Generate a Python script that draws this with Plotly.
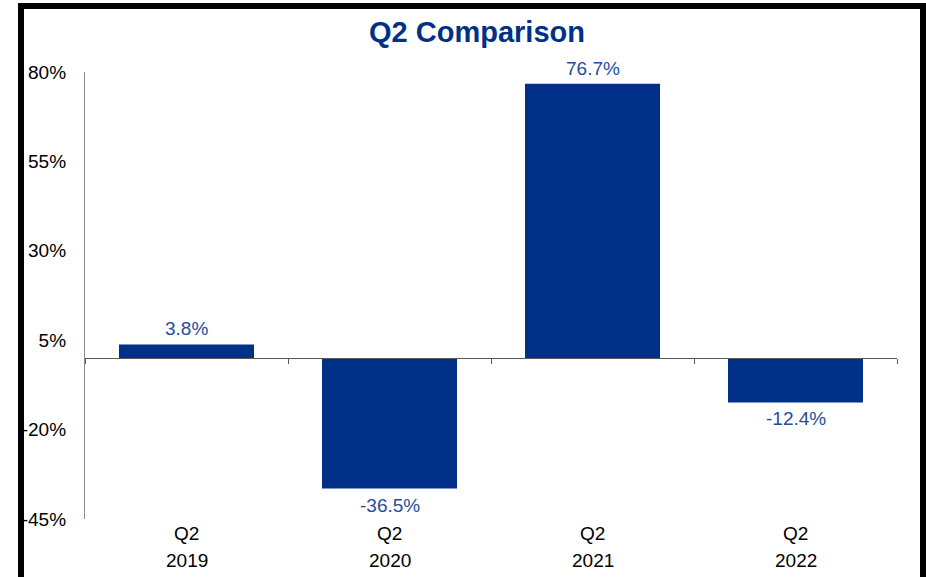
import plotly.graph_objects as go

quarters = ["Q2", "Q2", "Q2", "Q2"]
years = ["2019", "2020", "2021", "2022"]
categories = [f"{q} {y}" for q, y in zip(quarters, years)]
values = [3.8, -36.5, 76.7, -12.4]
value_labels = ["3.8%", "-36.5%", "76.7%", "-12.4%"]
y_ticks = [-45, -20, 5, 30, 55, 80]
y_tick_text = ["-45%", "-20%", "5%", "30%", "55%", "80%"]

W, H = 926, 577
L, R, T, B = 85, 29, 72, 58
pw, ph = W - L - R, H - T - B

BAR = "#003087"
TXT = "#1F4E9E"
FONT = "Arial, Liberation Sans, sans-serif"

fig = go.Figure()
fig.add_trace(go.Bar(x=categories, y=values, marker=dict(color=BAR, line=dict(width=0)),
                     hoverinfo="skip", showlegend=False))
fig.add_trace(go.Scatter(x=categories, y=values, xaxis="x2", mode="markers",
                         marker=dict(opacity=0), hoverinfo="skip", showlegend=False))

for c, v, t in zip(categories, values, value_labels):
    fig.add_annotation(x=c, y=v, text=t, showarrow=False,
                       yanchor="bottom" if v >= 0 else "top",
                       yshift=3 if v >= 0 else -4,
                       font=dict(family=FONT, size=19, color=TXT))

for c, q, yr in zip(categories, quarters, years):
    fig.add_annotation(x=c, y=0, yref="paper", text=q, showarrow=False,
                       yanchor="middle", yshift=-14,
                       font=dict(family=FONT, size=19, color="black"))
    fig.add_annotation(x=c, y=0, yref="paper", text=yr, showarrow=False,
                       yanchor="middle", yshift=-41,
                       font=dict(family=FONT, size=19, color="black"))

def px_to_paper_x(px):
    return (px - L) / pw

def px_to_paper_y(py):
    return (H - B - py) / ph

fig.add_shape(type="rect", xref="paper", yref="paper",
              x0=px_to_paper_x(21), x1=px_to_paper_x(923),
              y0=px_to_paper_y(600), y1=px_to_paper_y(6),
              line=dict(color="black", width=6), fillcolor="rgba(0,0,0,0)", layer="above")

ymin, ymax = -45, 80
fig.update_layout(
    width=W, height=H,
    margin=dict(l=L, r=R, t=T, b=B),
    paper_bgcolor="white", plot_bgcolor="white",
    bargap=0.335,
    font=dict(family=FONT, size=19, color="black"),
    title=dict(text="<b>Q2 Comparison</b>", x=477 / W, xanchor="center",
               y=1 - 32 / H, yanchor="middle", yref="container",
               font=dict(family=FONT, size=29, color="#003087")),
    xaxis=dict(type="category", categoryarray=categories, showline=False, ticks="",
               showgrid=False, zeroline=False, showticklabels=False),
    xaxis2=dict(type="category", categoryarray=categories, overlaying="x", anchor="free",
                position=(0 - ymin) / (ymax - ymin), side="bottom",
                showline=True, linecolor="#595959", linewidth=1.3,
                ticks="outside", ticklen=5, tickcolor="#595959", tickwidth=1.3,
                tickson="boundaries", showticklabels=False, showgrid=False,
                matches="x"),
    yaxis=dict(range=[ymin, ymax], tickvals=y_ticks, ticktext=y_tick_text,
               showgrid=False, zeroline=False, showline=True, linecolor="#8C8C8C",
               linewidth=1.3, ticks="", ticklabelstandoff=14,
               tickfont=dict(family=FONT, size=19, color="black")),
)

fig.write_html("out.html", config={"displayModeBar": False},
               post_script="document.body.style.margin='0px';")
